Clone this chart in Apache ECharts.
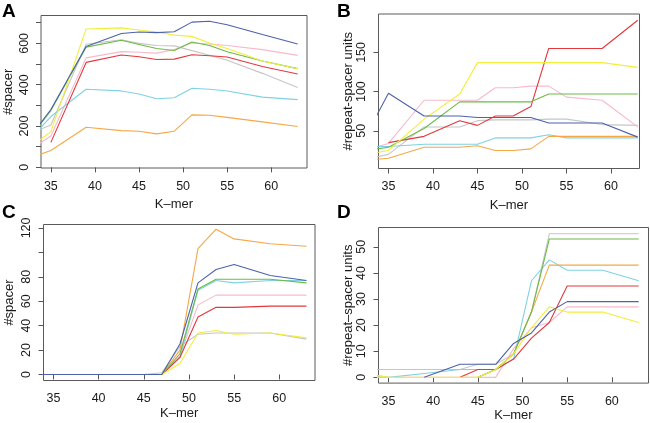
<!DOCTYPE html>
<html>
<head>
<meta charset="utf-8">
<script src="https://cdn.jsdelivr.net/npm/echarts@6/dist/echarts.min.js"></script>
<style>
html, body { margin: 0; padding: 0; background: #fff; }
#main { width: 650px; height: 423px; }
</style>
</head>
<body>
<div id="main"></div>
<script>
// k-mer sizes (first point lies left of the visible range and gets clipped)
var kmer = [33, 35, 39, 43, 45, 47, 49, 51, 53, 55, 59, 63];

// panel A: #spacer
var aBlue   = [167, 280, 585, 648, 655, 652, 656, 703, 707, 690, 643, 597];
var aYellow = [107, 173, 670, 675, 665, 655, 640, 634, 602, 575, 515, 477];
var aGreen  = [165, 275, 582, 615, 595, 575, 566, 607, 590, 560, 515, 478];
var aGrey   = [170, 205, 596, 618, 600, 590, 588, 565, 543, 518, 455, 387];
var aPink   = [95, 152, 530, 560, 557, 553, 570, 602, 597, 590, 570, 542];
var aRed    = [null, 121, 508, 544, 535, 522, 524, 545, 540, 534, 488, 452];
var aCyan   = [153, 246, 378, 370, 355, 332, 337, 383, 378, 370, 340, 328];
var aOrange = [51, 82, 194, 178, 175, 162, 175, 254, 252, 242, 220, 198];

// panel B: #repeat-spacer units
var bBlue   = [55, 98, 69, 69, 67, 67, 67, 67, 60, 60, 60, 42];
var bYellow = [21, 25, 65, 97, 137, 137, 137, 137, 137, 137, 137, 131];
var bGreen  = [26, 29, 53, 87, 87, 87, 87, 87, 97, 97, 97, 97];
var bGrey   = [15, 20, 55, 55, 63, 64, 64, 64, 65, 65, 58, 57];
var bPink   = [27, 34, 89, 89, 89, 105, 105, 107, 107, 93, 89, 55];
var bRed    = [null, 35, 43, 63, 57, 69, 69, 81, 155, 155, 155, 191];
var bCyan   = [30, 30, 33, 33, 33, 41, 41, 41, 45, 41, 41, 41];
var bOrange = [13, 15, 29, 29, 31, 25, 25, 27, 43, 43, 43, 43];

// panel C: #spacer
var cBlue   = [0, 0, 0, 0, 0, 0, 25, 75, 86, 90, 81, 77];
var cYellow = [0, 0, 0, 0, 0, 0, 9, 34, 36, 33, 34, 30];
var cGreen  = [0, 0, 0, 0, 0, 0, 17, 70, 78, 78, 78, 75];
var cGrey   = [0, 0, 0, 0, 0, 1.5, 23, 33, 34, 34, 34, 29];
var cPink   = [0, 0, 0, 0, 0, 0, 15, 57, 65, 65, 65, 65];
var cRed    = [0, 0, 0, 0, 0, 0, 14, 47, 55, 55, 56, 56];
var cCyan   = [0, 0, 0, 0, 0, 0, 14, 69, 77, 75, 77, 77];
var cOrange = [0, 0, 0, 0, 0, 0, 20, 103, 119, 111, 107, 105];

// panel D: #repeat-spacer units
var dBlue   = [null, null, 0, 5, 5, 5, 13, 17, 25, 29, 29, 29];
var dYellow = [1, 0, 0, 0, 0, 3, 9, 19, 27, 25, 25, 21];
var dGreen  = [null, null, null, null, 0, 3, 9, 25, 53, 53, 53, 53];
var dGrey   = [3, 3, 3, 3, 5, 5, 9, 25, 55, 55, 55, 55];
var dPink   = [0, 0, 0, 0, 0, 0, 11, 19, 21, 27, 27, 27];
var dRed    = [null, null, null, 0, 3, 3, 7, 15, 21, 35, 35, 35];
var dCyan   = [1, 0, 1.5, 3, 3, 3, 7, 37, 45, 41, 41, 37];
var dOrange = [null, null, null, null, 0, 3, 9, 25, 43, 43, 43, 43];

var xTicks = [35, 40, 45, 50, 55, 60];
var aTicks = [0, 100, 200, 300, 400, 500, 600, 700];
var aLabels = [0, 200, 400, 600];
var bTicks = [50, 100, 150];
var cTicks = [0, 20, 40, 60, 80, 100, 120];
var cLabels = [0, 20, 40, 60, 80, 120];
var dTicks = [0, 10, 20, 30, 40, 50];

var colors = {
    grey: '#c6c6c6', pink: '#f7b9cc', cyan: '#7fd2e3', orange: '#f6a847',
    red: '#e2383e', green: '#6cbb48', yellow: '#f2ee3a', blue: '#4d62ab'
};

var panels = [
    {lines: {grey: aGrey, pink: aPink, cyan: aCyan, orange: aOrange, red: aRed, green: aGreen, yellow: aYellow, blue: aBlue}},
    {lines: {grey: bGrey, pink: bPink, cyan: bCyan, orange: bOrange, red: bRed, green: bGreen, yellow: bYellow, blue: bBlue}},
    {lines: {grey: cGrey, pink: cPink, cyan: cCyan, orange: cOrange, red: cRed, green: cGreen, yellow: cYellow, blue: cBlue}},
    {lines: {grey: dGrey, pink: dPink, cyan: dCyan, orange: dOrange, red: dRed, green: dGreen, yellow: dYellow, blue: dBlue}}
];

var FONT = 'Liberation Sans';
var TXT = '#1a1a1a';

function pairs(ys) {
    var out = [];
    for (var i = 0; i < kmer.length; i++) {
        out.push([kmer[i], ys[i] === null ? null : ys[i]]);
    }
    return out;
}

function xAxisFor(idx, min, max, gap) {
    return {
        type: 'value', gridIndex: idx, min: min, max: max,
        name: 'K–mer', nameLocation: 'middle', nameGap: gap,
        nameTextStyle: {fontFamily: FONT, fontSize: 13, color: TXT},
        axisLine: {show: false},
        axisTick: {show: true, inside: false, length: 5, customValues: xTicks, lineStyle: {color: '#555'}},
        axisLabel: {show: true, margin: 12, customValues: xTicks, fontFamily: FONT, fontSize: 12.5, color: TXT},
        splitLine: {show: false}
    };
}

function yAxisFor(idx, min, max, ticks, labels, name, gap) {
    return {
        type: 'value', gridIndex: idx, min: min, max: max,
        name: name, nameLocation: 'middle', nameGap: gap, nameRotate: 90,
        nameTextStyle: {fontFamily: FONT, fontSize: 13, color: TXT},
        axisLine: {show: false},
        axisTick: {show: true, inside: false, length: 5, customValues: ticks, lineStyle: {color: '#555'}},
        axisLabel: {show: true, margin: 10, rotate: 90, customValues: labels, fontFamily: FONT, fontSize: 12.5, color: TXT},
        splitLine: {show: false}
    };
}

var gridStyle = {show: true, borderColor: '#5a5a5a', borderWidth: 1, backgroundColor: 'transparent', containLabel: false};

var option = {
    animation: false,
    backgroundColor: '#fff',
    grid: [
        Object.assign({left: 41, top: 15.5, width: 266, height: 152.5}, gridStyle),
        Object.assign({left: 378.5, top: 14, width: 261, height: 154.5}, gridStyle),
        Object.assign({left: 43.5, top: 224.5, width: 271.5, height: 156}, gridStyle),
        Object.assign({left: 378.5, top: 227.5, width: 270, height: 156}, gridStyle)
    ],
    xAxis: [
        xAxisFor(0, 33.88, 64.06, 30),
        xAxisFor(1, 33.88, 63.2, 30),
        xAxisFor(2, 33.9, 63.95, 26),
        xAxisFor(3, 33.88, 64.1, 25)
    ],
    yAxis: [
        yAxisFor(0, -3, 735, aTicks, aLabels, '#spacer', 26),
        yAxisFor(1, 2, 199, bTicks, bTicks, '#repeat-spacer units', 24),
        yAxisFor(2, -4.9, 122.8, cTicks, cLabels, '#spacer', 28),
        yAxisFor(3, -2.2, 57.4, dTicks, dTicks, '#repeat–spacer units', 20)
    ],
    graphic: [
        {type: 'text', left: 2, top: 2, style: {text: 'A', font: 'bold 19px "Liberation Sans"', fill: '#000'}},
        {type: 'text', left: 337, top: 2, style: {text: 'B', font: 'bold 19px "Liberation Sans"', fill: '#000'}},
        {type: 'text', left: 2, top: 203, style: {text: 'C', font: 'bold 19px "Liberation Sans"', fill: '#000'}},
        {type: 'text', left: 337, top: 203, style: {text: 'D', font: 'bold 19px "Liberation Sans"', fill: '#000'}}
    ],
    series: []
};

panels.forEach(function (p, idx) {
    Object.keys(p.lines).forEach(function (key) {
        option.series.push({
            type: 'line',
            xAxisIndex: idx,
            yAxisIndex: idx,
            data: pairs(p.lines[key]),
            showSymbol: false,
            symbol: 'none',
            clip: true,
            connectNulls: false,
            lineStyle: {color: colors[key], width: 1.1},
            itemStyle: {color: colors[key]},
            emphasis: {disabled: true}
        });
    });
});

var myChart = echarts.init(document.getElementById('main'));
myChart.setOption(option);
</script>
</body>
</html>
